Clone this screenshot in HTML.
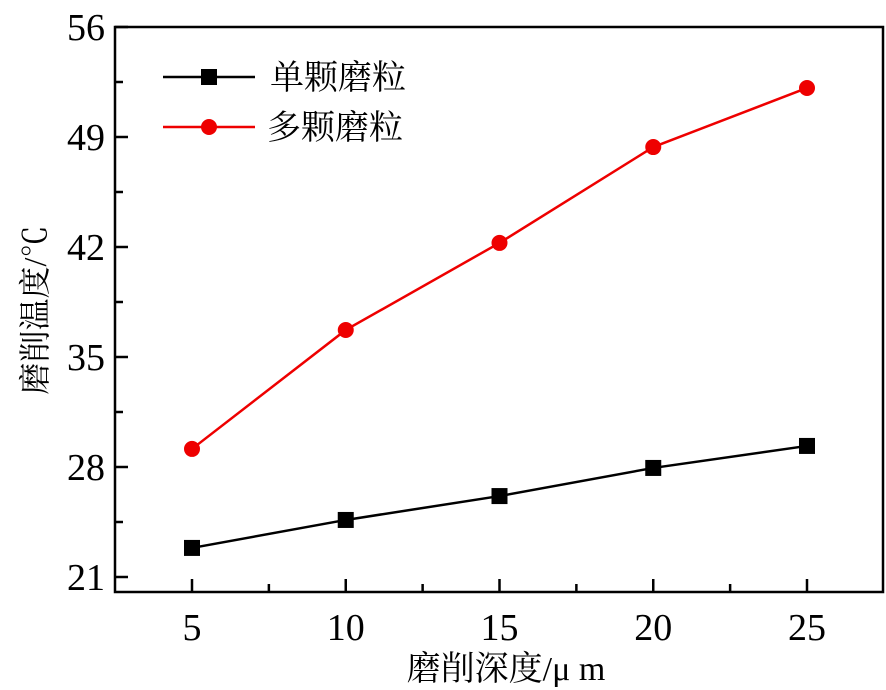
<!DOCTYPE html>
<html><head><meta charset="utf-8"><style>
html,body{margin:0;padding:0;background:#fff;}
svg{display:block;font-family:"Liberation Serif","Noto Serif CJK SC",serif;}
</style></head><body>
<svg id="chart" width="886" height="690" viewBox="0 0 886 690">
<rect x="115" y="27" width="768" height="565" fill="none" stroke="#000" stroke-width="2.5"/>
<g id="axes"></g>
<g id="series"></g>
<g>
<line x1="163" y1="77" x2="255" y2="77" stroke="#000" stroke-width="2.5"/>
<rect x="201" y="69" width="16" height="16" fill="#000"/>
<text x="270" y="89" font-size="34">单颗磨粒</text>
<line x1="163" y1="127" x2="255" y2="127" stroke="#e00" stroke-width="2.5"/>
<circle cx="209" cy="127" r="8" fill="#e00"/>
<text x="267" y="139" font-size="34">多颗磨粒</text>
</g>
<text x="506" y="680" font-size="34" text-anchor="middle">磨削深度/μ m</text>
<text transform="translate(46,310) rotate(-90)" font-size="32" text-anchor="middle">磨削温度/℃</text>
</svg>
<script>
const xValues = [5, 10, 15, 20, 25];
const singleTemps = [22.85, 24.63, 26.15, 27.94, 29.34];
const multiTemps = [29.15, 36.72, 42.26, 48.36, 52.12];
const yTicks = [21, 28, 35, 42, 49, 56];
const xTicks = [5, 10, 15, 20, 25];
const NS = "http://www.w3.org/2000/svg";
function sx(v){return 192 + (v-5)*(807-192)/20;}
function sy(v){return 577 - (v-21)*110/7;}
function mk(tag, attrs, parent){const e=document.createElementNS(NS,tag);for(const k in attrs)e.setAttribute(k,attrs[k]);parent.appendChild(e);return e;}
const axes=document.getElementById('axes');
yTicks.forEach((t,i)=>{
  const y=sy(t);
  const l=mk('line',{x1:115,y1:y,x2:128,y2:y,stroke:'#000','stroke-width':2.5},axes);
  
  
  const tx=mk('text',{x:105,y:y+13,'font-size':38,'text-anchor':'end'},axes);
  tx.textContent=t;
  
  
  if(i<yTicks.length-1){
    const m=sy(t+3.5);
    const ml=mk('line',{x1:115,y1:m,x2:123,y2:m,stroke:'#000','stroke-width':2.5},axes);
    
    
  }
});
xTicks.forEach((t,i)=>{
  const x=sx(t);
  const l=mk('line',{x1:x,y1:592,x2:x,y2:579,stroke:'#000','stroke-width':2.5},axes);
  
  
  const tx=mk('text',{x:x,y:640,'font-size':38,'text-anchor':'middle'},axes);
  tx.textContent=t;
  
  
  if(i<xTicks.length-1){
    const m=sx(t+2.5);
    const ml=mk('line',{x1:m,y1:592,x2:m,y2:584,stroke:'#000','stroke-width':2.5},axes);
    
    
  }
});
const ser=document.getElementById('series');
function drawSeries(vals,color,shape,name){
  const pts=xValues.map((x,i)=>sx(x)+','+sy(vals[i])).join(' ');
  const pl=mk('polyline',{points:pts,fill:'none',stroke:color,'stroke-width':2.5},ser);
  
  
  xValues.forEach((x,i)=>{
    let e;
    if(shape==='square') e=mk('rect',{x:sx(x)-8,y:sy(vals[i])-8,width:16,height:16,fill:color},ser);
    else e=mk('circle',{cx:sx(x),cy:sy(vals[i]),r:8,fill:color},ser);
    
    
  });
}
drawSeries(singleTemps,'#000','square','single-grain');
drawSeries(multiTemps,'#e00','circle','multi-grain');
</script>
</body></html>
